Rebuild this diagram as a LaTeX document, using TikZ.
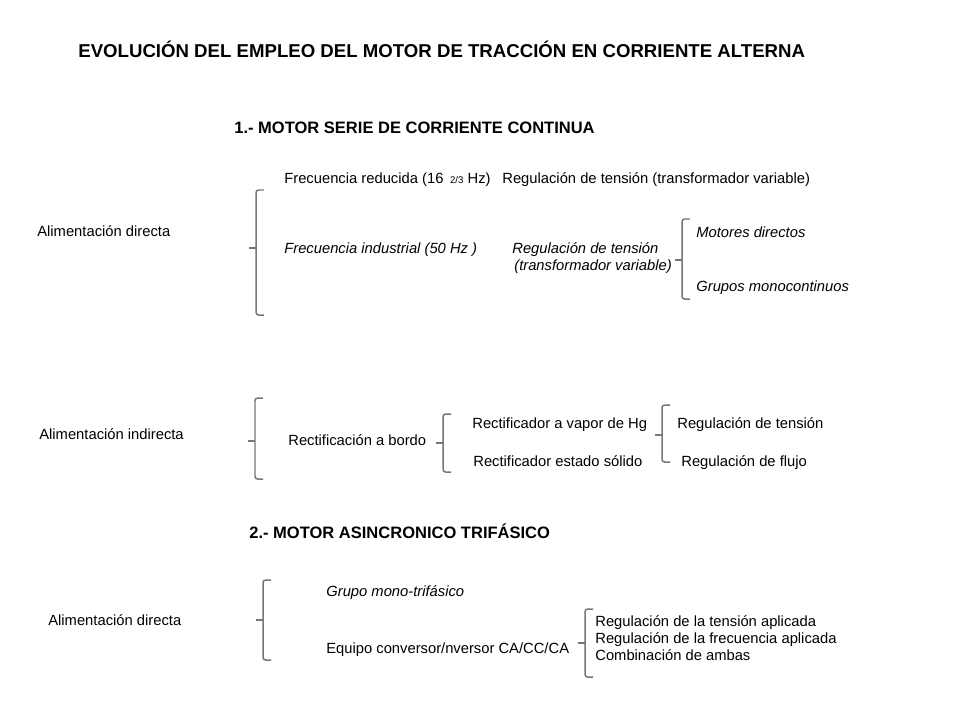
\documentclass[tikz,border=0pt]{standalone}
\usepackage{fontspec}
\setmainfont{Liberation Sans}
\usetikzlibrary{positioning}
\definecolor{gris}{RGB}{118,118,118}
\tikzset{
  texto/.style={anchor=west, inner sep=0pt, text height=1.6ex, text depth=0.45ex, font=\fontsize{8.4}{10}\selectfont},
  textoit/.style={texto, font=\fontsize{8.4}{10}\selectfont\itshape},
  titulo/.style={anchor=west, inner sep=0pt, text height=1.6ex, text depth=0.45ex, font=\fontsize{10.6}{12}\selectfont\bfseries},
  seccion/.style={anchor=west, inner sep=0pt, text height=1.6ex, text depth=0.45ex, font=\fontsize{9.4}{11}\selectfont\bfseries},
  corchete/.style={draw=gris, line width=0.85pt, rounded corners=1.5pt}
}
% llave: x, arriba, medio, abajo
\newcommand{\llave}[4]{%
  \draw[corchete] (#1+8,#2) -- (#1,#2) -- (#1,#4) -- (#1+8,#4);
  \draw[corchete] (#1,#3) -- (#1-7,#3);}

\begin{document}
\begin{tikzpicture}[x=0.02cm, y=-0.02cm]
\useasboundingbox (0,0) rectangle (960,720);

\node[titulo] (tit) at (78,52) {EVOLUCIÓN DEL EMPLEO DEL MOTOR DE TRACCIÓN EN CORRIENTE ALTERNA};
\node[seccion] (sec1) at (234,128) {1.- MOTOR SERIE DE CORRIENTE CONTINUA};

% alimentacion directa
\node[texto] (alim1) at (37,231) {Alimentación directa};
\llave{256}{190}{248}{315}
\node[texto] (frecRed) at (284,178) {Frecuencia reducida (16 \,{\fontsize{5.5}{6}\selectfont 2/3} Hz)};
\node[texto] (regTen1) at (502,178) {Regulación de tensión (transformador variable)};
\node[textoit] (frecInd) at (284,248) {Frecuencia industrial (50 Hz )};
\node[textoit] (regTen2) at (512,248) {Regulación de tensión};
\node[textoit] (trafo) at (514,265) {(transformador variable)};
\llave{682}{219}{260}{299}
\node[textoit] (motDir) at (696,232) {Motores directos};
\node[textoit] (grupMono) at (696,286) {Grupos monocontinuos};

% alimentacion indirecta
\node[texto] (alim2) at (39,434) {Alimentación indirecta};
\llave{255}{398}{441}{479}
\node[texto] (rectBordo) at (288,440) {Rectificación a bordo};
\llave{443}{414}{443}{472}
\node[texto] (rectHg) at (472,423) {Rectificador a vapor de Hg};
\node[texto] (rectSol) at (473,461) {Rectificador estado sólido};
\llave{662}{405}{435}{462}
\node[texto] (regTen3) at (677,423) {Regulación de tensión};
\node[texto] (regFlujo) at (681,461) {Regulación de flujo};

\node[seccion] (sec2) at (249,533) {2.- MOTOR ASINCRONICO TRIFÁSICO};

% motor asincronico
\node[texto] (alim3) at (48,620) {Alimentación directa};
\llave{263}{580}{620}{660}
\node[textoit] (grupTri) at (326,591) {Grupo mono-trifásico};
\node[texto] (equipo) at (326,648) {Equipo conversor/nversor CA/CC/CA};
\llave{585}{609}{643}{677}
\node[texto] (regApl) at (595,621) {Regulación de la tensión aplicada};
\node[texto] (regFrec) at (595,638) {Regulación de la frecuencia aplicada};
\node[texto] (ambas) at (595,655) {Combinación de ambas};

\end{tikzpicture}
\end{document}
